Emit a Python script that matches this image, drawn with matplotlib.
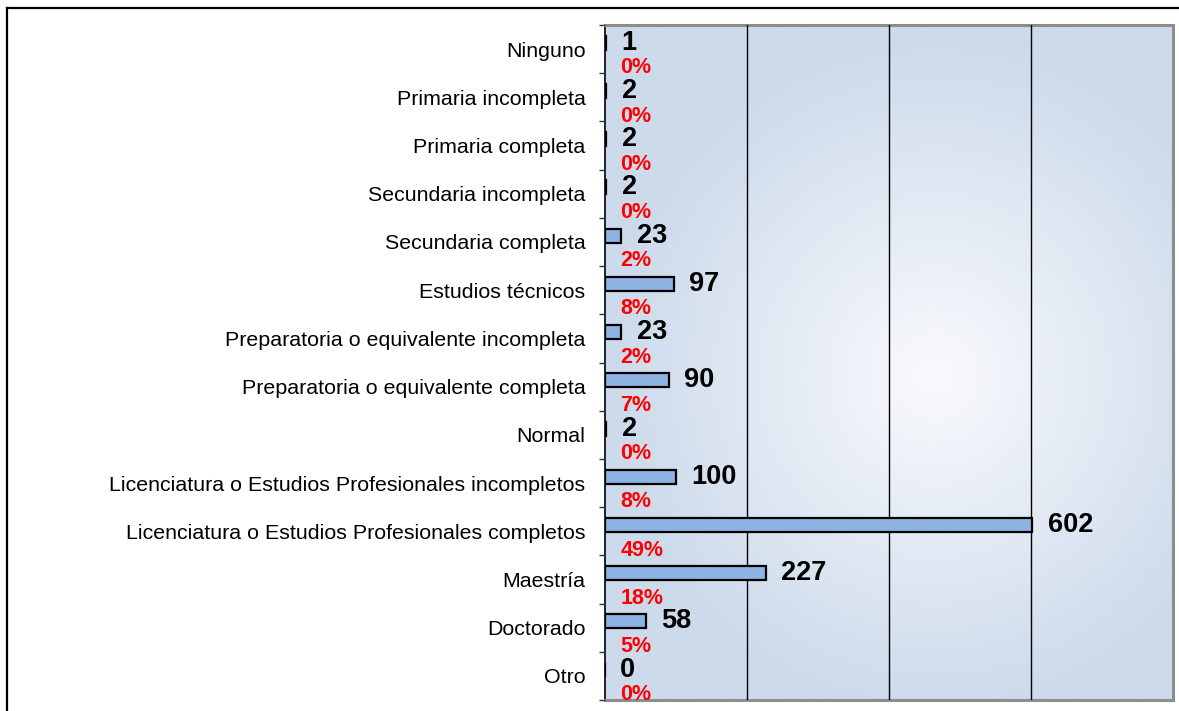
import numpy as np
import matplotlib
matplotlib.use("Agg")
import matplotlib.pyplot as plt
from matplotlib.lines import Line2D
from matplotlib.colors import LinearSegmentedColormap

plt.rcParams['font.family'] = ['Liberation Sans', 'DejaVu Sans']

categories = [
    "Ninguno",
    "Primaria incompleta",
    "Primaria completa",
    "Secundaria incompleta",
    "Secundaria completa",
    "Estudios técnicos",
    "Preparatoria o equivalente incompleta",
    "Preparatoria o equivalente completa",
    "Normal",
    "Licenciatura o Estudios Profesionales incompletos",
    "Licenciatura o Estudios Profesionales completos",
    "Maestría",
    "Doctorado",
    "Otro",
]
counts = [1, 2, 2, 2, 23, 97, 23, 90, 2, 100, 602, 227, 58, 0]
percents = [0, 0, 0, 0, 2, 8, 2, 7, 0, 8, 49, 18, 5, 0]

W, H = 1179, 711
fig = plt.figure(figsize=(W / 100, H / 100), dpi=100)
fig.patch.set_facecolor("white")

# outer frame (left and top visible)
fig.add_artist(Line2D([7 / W, 7 / W], [0, 1 - 8 / H], transform=fig.transFigure, color="black", lw=1.6))
fig.add_artist(Line2D([7 / W, 1], [1 - 8 / H, 1 - 8 / H], transform=fig.transFigure, color="black", lw=1.6))

left, right, top, bottom = 605, 1173, 25, 700
ax = fig.add_axes([left / W, 1 - bottom / H, (right - left) / W, (bottom - top) / H])

n = len(categories)
y = np.arange(n)
xmax = 800

# radial gradient background
gx = np.linspace(0, 1, 300)
gy = np.linspace(0, 1, 300)
GX, GY = np.meshgrid(gx, gy)
d = np.sqrt(((GX - 0.58) / 0.8) ** 2 + ((GY - 0.52) / 0.7) ** 2)
d = np.clip(d / 0.72, 0, 1)
cmap = LinearSegmentedColormap.from_list("bg", ["#F9FAFD", "#E3EAF4", "#CCDAEB"])
ax.imshow(d, cmap=cmap, extent=[0, xmax, n - 0.5, -0.5], aspect="auto", zorder=0,
          interpolation="bilinear", vmin=0, vmax=1)

bar_off = -0.13
ax.barh(y + bar_off, counts, height=0.29, color="#8DB3E2", edgecolor="black", linewidth=1.6, zorder=3)

for yi, c, p in zip(y, counts, percents):
    ax.annotate(str(c), xy=(c, yi + bar_off), xytext=(11, 0), textcoords="offset points",
                ha="left", va="center", fontsize=19.5, fontweight="bold", color="black", zorder=5)
    ax.text(22, yi + 0.39, f"{p}%", ha="left", va="center", fontsize=15.5,
            fontweight="bold", color="#FF0000", zorder=5)

ax.set_xlim(0, xmax)
ax.set_ylim(n - 0.5, -0.5)
ax.set_xticks([200, 400, 600])
ax.tick_params(axis="x", length=0, labelbottom=False)
ax.grid(axis="x", color="black", linewidth=1.0, zorder=1)
ax.set_axisbelow(False)
for gl in ax.get_xgridlines():
    gl.set_zorder(1)

ax.set_yticks(y)
ax.set_yticklabels(categories, fontsize=15.4)
ax.tick_params(axis="y", which="major", length=0, pad=14)
ax.set_yticks(np.arange(n + 1) - 0.5, minor=True)
ax.tick_params(axis="y", which="minor", length=4.5, width=1.0, direction="out", color="#333333")

for s in ["top", "right", "bottom"]:
    ax.spines[s].set_color("#8C8C8C")
    ax.spines[s].set_linewidth(2.2)
ax.spines["left"].set_color("black")
ax.spines["left"].set_linewidth(1.2)

fig.savefig("out.png", dpi=100)
